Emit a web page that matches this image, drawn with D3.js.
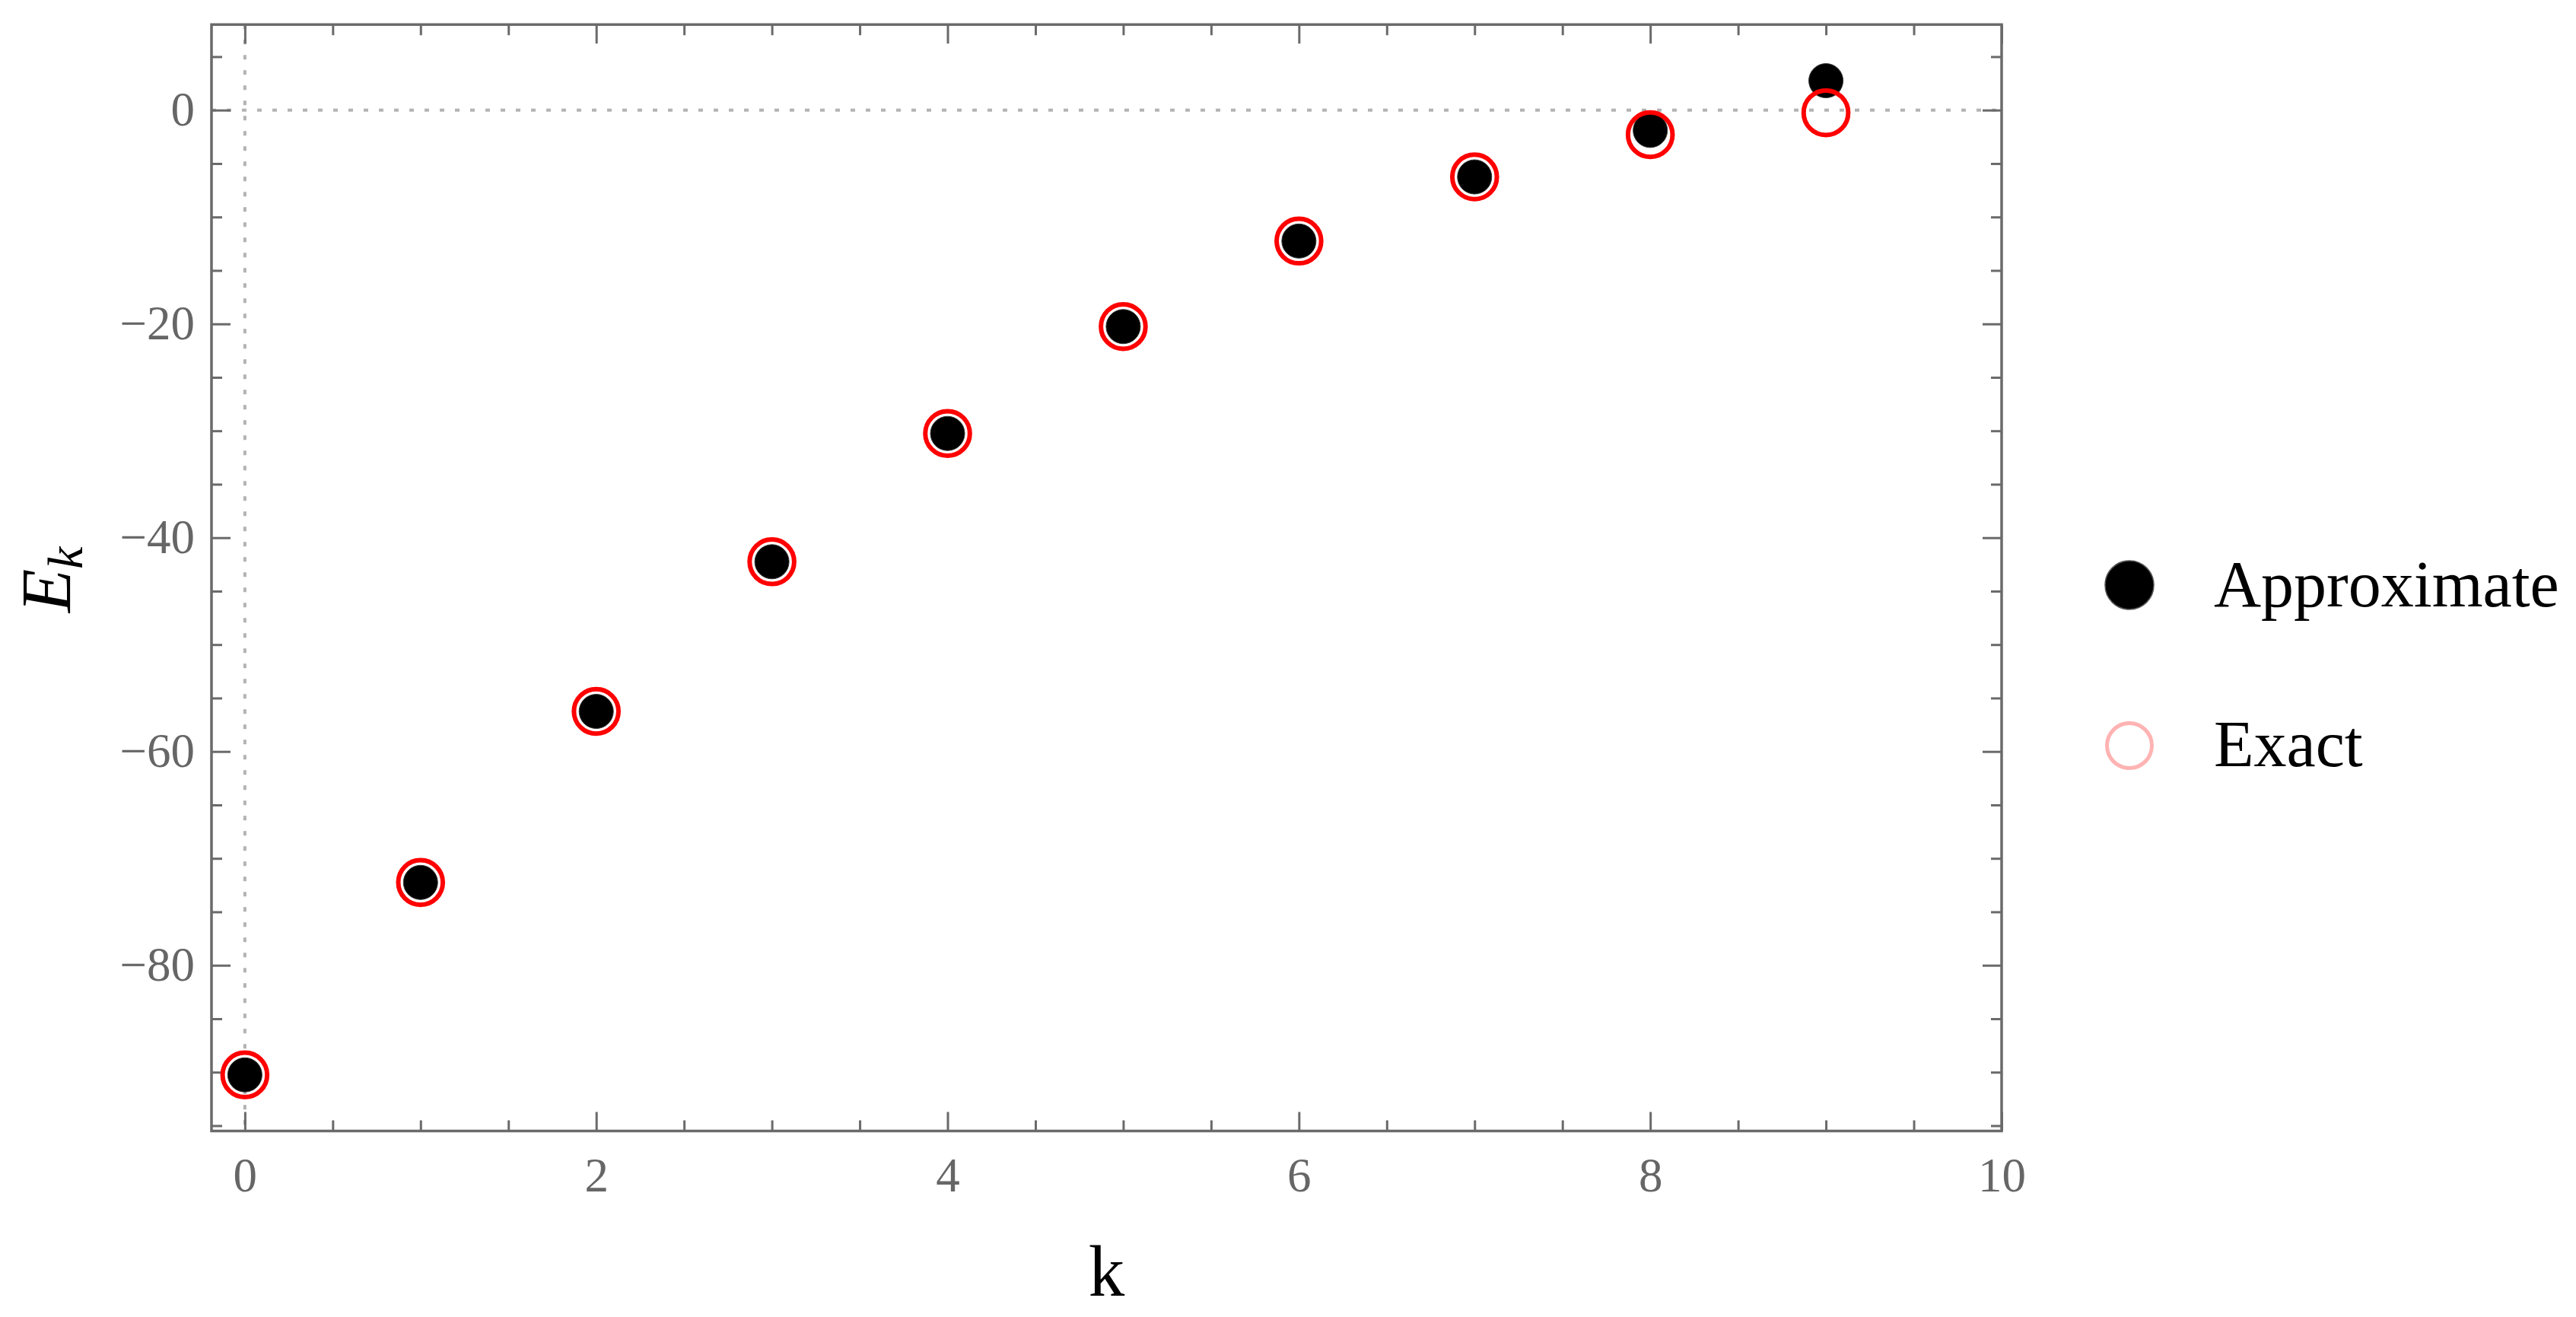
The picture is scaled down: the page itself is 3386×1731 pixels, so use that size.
<!DOCTYPE html>
<html>
<head>
<meta charset="utf-8">
<script src="https://cdn.jsdelivr.net/npm/d3@7"></script>
<style>
  html, body { margin: 0; padding: 0; background: #fff; }
  svg { display: block; }
  text { font-family: "Liberation Serif", "Times New Roman", serif; }
</style>
</head>
<body>
<script>
// ---- data ----
const kValues = [0, 1, 2, 3, 4, 5, 6, 7, 8, 9];
const approximate = [-90.25, -72.25, -56.25, -42.25, -30.25, -20.25, -12.25, -6.25, -1.9, 2.75];
const exact = [-90.25, -72.25, -56.25, -42.25, -30.25, -20.25, -12.25, -6.25, -2.3, -0.25];
const xMajorTicks = [0, 2, 4, 6, 8, 10];
const xMinorTicks = [0.5, 1, 1.5, 2.5, 3, 3.5, 4.5, 5, 5.5, 6.5, 7, 7.5, 8.5, 9, 9.5];
const yMajorTicks = [0, -20, -40, -60, -80];
const yMinorTicks = [5, -5, -10, -15, -25, -30, -35, -45, -50, -55, -65, -70, -75, -85, -90, -95];
const seriesNames = ["Approximate", "Exact"];

// ---- layout ----
const W = 3386, H = 1731;
const L = 278, R = 2631, T = 32.3, B = 1486.5;
const frameColor = "#6a6a6a";
const tickFont = 63;

const svg = d3.select("body").append("svg").attr("width", W).attr("height", H);
svg.append("rect").attr("width", W).attr("height", H).attr("fill", "#fff");

const x = d3.scaleLinear().domain([-0.19, 10]).range([L, R]);
const y = d3.scaleLinear().domain([-95.5, 8]).range([B, T]);

// dotted axes lines
svg.append("line")
  .attr("x1", L).attr("x2", R).attr("y1", y(0)).attr("y2", y(0))
  .attr("stroke", "#b3b3b3").attr("stroke-width", 4).attr("stroke-dasharray", "6,14");
svg.append("line")
  .attr("x1", x(0)).attr("x2", x(0)).attr("y1", T).attr("y2", B)
  .attr("stroke", "#b3b3b3").attr("stroke-width", 4).attr("stroke-dasharray", "6,14");

function styleAxis(g) {
  g.select(".domain").remove();
  g.selectAll(".tick line").attr("stroke", frameColor).attr("stroke-width", 3);
  g.selectAll(".tick text").attr("fill", "#666").attr("font-size", tickFont)
    .attr("font-family", "Liberation Serif, serif");
}

// bottom
svg.append("g").attr("transform", `translate(0,${B})`)
  .call(d3.axisBottom(x).tickValues(xMajorTicks).tickSize(-25).tickPadding(35).tickFormat(d3.format("d")))
  .call(styleAxis);
svg.append("g").attr("transform", `translate(0,${B})`)
  .call(d3.axisBottom(x).tickValues(xMinorTicks).tickSize(-14).tickFormat(""))
  .call(styleAxis);
// top
svg.append("g").attr("transform", `translate(0,${T})`)
  .call(d3.axisTop(x).tickValues(xMajorTicks).tickSize(-25).tickFormat(""))
  .call(styleAxis);
svg.append("g").attr("transform", `translate(0,${T})`)
  .call(d3.axisTop(x).tickValues(xMinorTicks).tickSize(-14).tickFormat(""))
  .call(styleAxis);
// left
svg.append("g").attr("transform", `translate(${L},0)`)
  .call(d3.axisLeft(y).tickValues(yMajorTicks).tickSize(-25).tickPadding(22).tickFormat(d3.format("d")))
  .call(styleAxis);
svg.append("g").attr("transform", `translate(${L},0)`)
  .call(d3.axisLeft(y).tickValues(yMinorTicks).tickSize(-14).tickFormat(""))
  .call(styleAxis);
// right
svg.append("g").attr("transform", `translate(${R},0)`)
  .call(d3.axisRight(y).tickValues(yMajorTicks).tickSize(-25).tickFormat(""))
  .call(styleAxis);
svg.append("g").attr("transform", `translate(${R},0)`)
  .call(d3.axisRight(y).tickValues(yMinorTicks).tickSize(-14).tickFormat(""))
  .call(styleAxis);

// frame
svg.append("rect").attr("x", L).attr("y", T).attr("width", R - L).attr("height", B - T)
  .attr("fill", "none").attr("stroke", frameColor).attr("stroke-width", 3.5);

// points
const approxData = kValues.map((k, i) => ({k, v: approximate[i]}));
const exactData = kValues.map((k, i) => ({k, v: exact[i]}));

svg.append("g").selectAll("circle").data(approxData).join("circle")
  .attr("cx", d => x(d.k)).attr("cy", d => y(d.v)).attr("r", 22.5)
  .attr("fill", "#000").attr("stroke", "#333").attr("stroke-width", 1);
svg.append("g").selectAll("circle").data(exactData).join("circle")
  .attr("cx", d => x(d.k)).attr("cy", d => y(d.v)).attr("r", 29.3)
  .attr("fill", "none").attr("stroke", "#ff0000").attr("stroke-width", 6);

// axis labels
svg.append("text").attr("x", (L + R) / 2).attr("y", 1703)
  .attr("text-anchor", "middle").attr("font-size", 95).attr("fill", "#000").text("k");

const yl = svg.append("text").attr("transform", "translate(92,762) rotate(-90)")
  .attr("text-anchor", "middle").attr("font-size", 94).attr("fill", "#000");
yl.append("tspan").attr("font-style", "italic").text("E");
yl.append("tspan").attr("font-style", "italic").attr("font-size", 66).attr("dy", 16).text("k");

// legend
const legend = svg.append("g");
legend.append("circle").attr("cx", 2799).attr("cy", 769).attr("r", 32)
  .attr("fill", "#000").attr("stroke", "#555").attr("stroke-width", 1.5);
legend.append("circle").attr("cx", 2799).attr("cy", 980).attr("r", 29.5)
  .attr("fill", "none").attr("stroke", "#ffb3b3").attr("stroke-width", 5);
legend.append("text").attr("x", 2910).attr("y", 797).attr("font-size", 86).attr("fill", "#000").text(seriesNames[0]);
legend.append("text").attr("x", 2910).attr("y", 1007).attr("font-size", 86).attr("fill", "#000").text(seriesNames[1]);
</script>
</body>
</html>
